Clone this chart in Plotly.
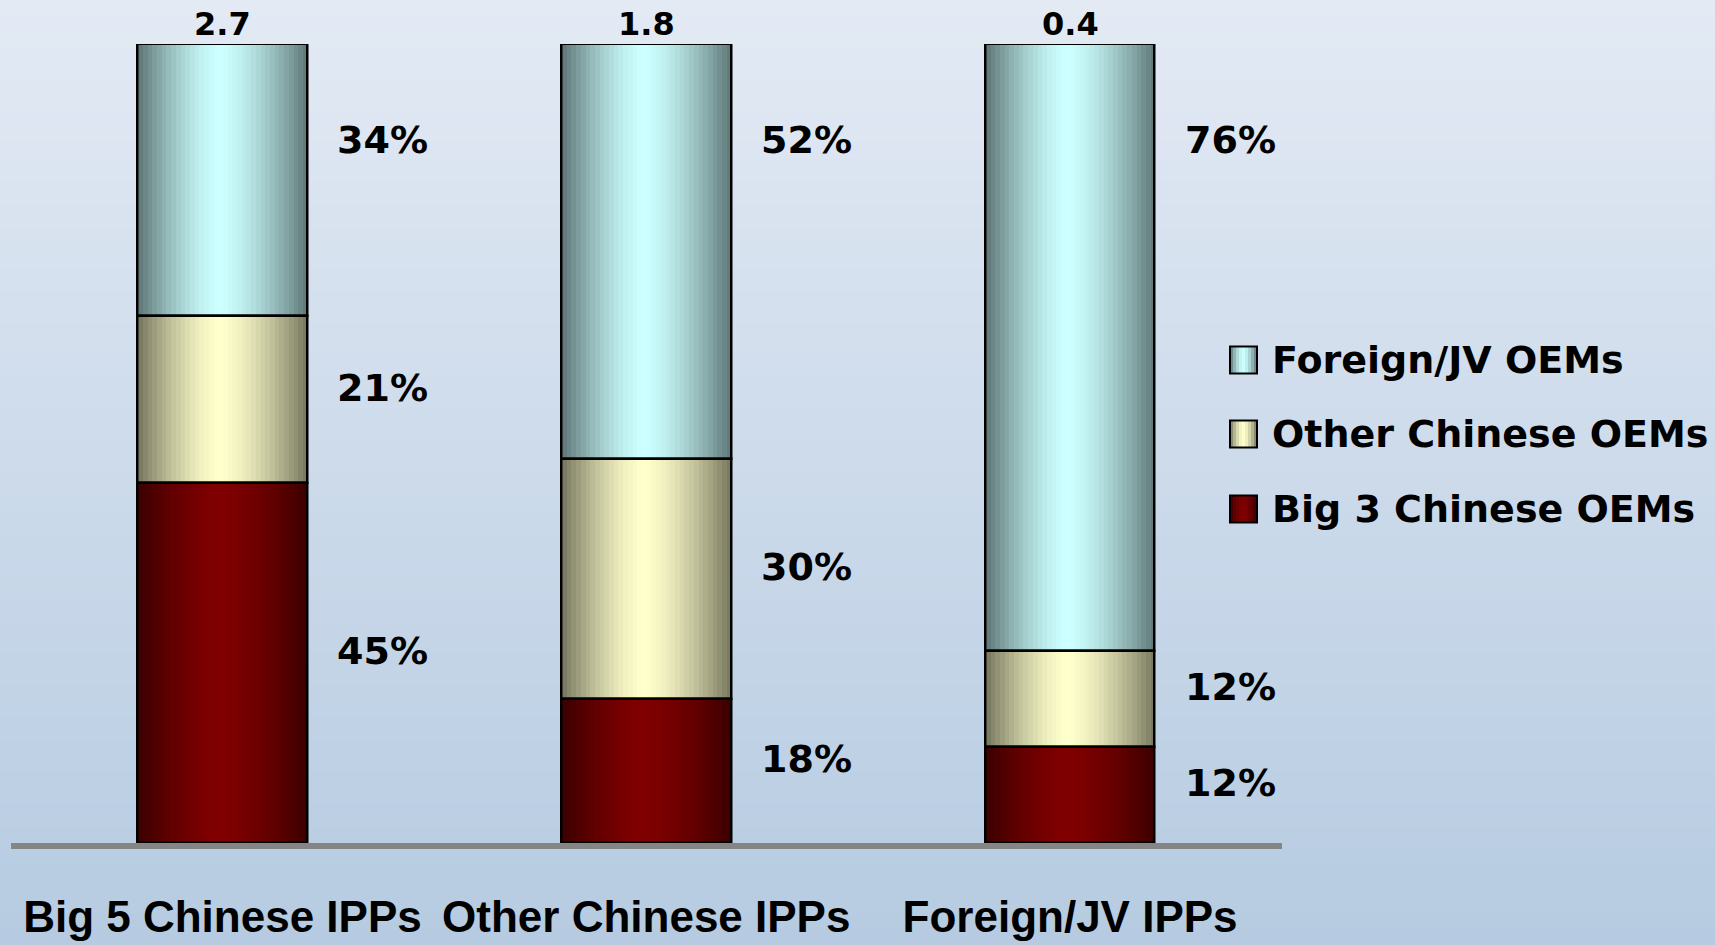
import plotly.graph_objects as go

# ---- data -------------------------------------------------------------
categories = ["Big 5 Chinese IPPs", "Other Chinese IPPs", "Foreign/JV IPPs"]
totals = [2.7, 1.8, 0.4]
big3_share = [45, 18, 12]
other_share = [21, 30, 12]
foreign_share = [34, 52, 76]

series_names = ["Big 3 Chinese OEMs", "Other Chinese OEMs", "Foreign/JV OEMs"]
series_values = [big3_share, other_share, foreign_share]
# bright centre colour of each cylinder-shaded series
series_light = [(128, 0, 0), (255, 255, 204), (204, 255, 255)]

# ---- layout constants -------------------------------------------------
W, H = 1715, 945
BAR_W = 0.40
N_SLICES = 36
EDGE_DARK = 0.46
PEAK = 0.48
FONT_NUM = "DejaVu Sans"
FONT_CAT = "Liberation Sans, Arial, sans-serif"


def shade(rgb, t):
    """Horizontal cylinder shading: dark at the edges, full colour near the middle."""
    d = abs(t - PEAK) / (PEAK if t < PEAK else 1 - PEAK)
    f = 1 - min(d, 1) ** 1.5
    k = EDGE_DARK + (1 - EDGE_DARK) * f
    return "rgb(%d,%d,%d)" % tuple(round(c * k) for c in rgb)


fig = go.Figure()

# stacked bases
bases = []
running = [0] * len(categories)
for vals in series_values:
    bases.append(list(running))
    running = [r + v for r, v in zip(running, vals)]

# gradient fill: each segment is built from thin overlapping bar slices
step = BAR_W / N_SLICES
for name, vals, base, light in zip(series_names, series_values, bases, series_light):
    for k in range(N_SLICES):
        off = -BAR_W / 2 + k * step
        wid = min(step * 1.8, BAR_W / 2 - off)
        fig.add_trace(go.Bar(
            x=categories, y=vals, base=base,
            offset=off, width=wid,
            marker=dict(color=shade(light, (k + 0.5) / N_SLICES), line=dict(width=0)),
            showlegend=False, hoverinfo="skip", name=name,
        ))

# outlines of each segment
for name, vals, base in zip(series_names, series_values, bases):
    fig.add_trace(go.Bar(
        x=categories, y=vals, base=base,
        offset=-BAR_W / 2, width=BAR_W,
        marker=dict(color="rgba(0,0,0,0)", line=dict(color="black", width=2.5)),
        name=name, showlegend=False,
        hovertemplate="%{x}<br>" + name + ": %{y}%<extra></extra>",
    ))

annotations = []

# percentage labels to the right of each segment
TOP_LABEL_Y = 88
for si, (vals, base) in enumerate(zip(series_values, bases)):
    for ci, cat in enumerate(categories):
        if si == len(series_values) - 1:
            yy = TOP_LABEL_Y
        else:
            yy = base[ci] + vals[ci] / 2 + 1.5
        annotations.append(dict(
            x=cat, y=yy, xref="x", yref="y", text=f"{vals[ci]}%",
            showarrow=False, xanchor="left", yanchor="middle", xshift=BAR_W / 2 * 423 + 28,
            font=dict(family=FONT_NUM, size=38, color="black", weight="bold"),
        ))

# totals above the bars
for ci, cat in enumerate(categories):
    annotations.append(dict(
        x=cat, y=100, xref="x", yref="y", text=f"{totals[ci]}",
        showarrow=False, xanchor="center", yanchor="bottom", yshift=-1,
        font=dict(family=FONT_NUM, size=32, color="black", weight="bold"),
    ))

shapes = []

# vertical background gradient
top_c = (227, 234, 244)
bot_c = (182, 203, 225)
N_BANDS = 120
for i in range(N_BANDS):
    t = i / (N_BANDS - 1)
    c = tuple(round(a + (b - a) * t) for a, b in zip(top_c, bot_c))
    shapes.append(dict(
        type="rect", xref="paper", yref="paper", layer="below",
        x0=0, x1=1, y0=1 - (i + 1) / N_BANDS - 0.002, y1=1 - i / N_BANDS,
        fillcolor="rgb(%d,%d,%d)" % c, line=dict(width=0),
    ))

# legend (top entry first)
LEG_X0, LEG_SW = 1230, 27
LEG_ROWS = [360, 434, 509]
for row_y, name, light in zip(LEG_ROWS, series_names[::-1], series_light[::-1]):
    n = 9
    for k in range(n):
        shapes.append(dict(
            type="rect", xref="paper", yref="paper",
            x0=(LEG_X0 + k * LEG_SW / n) / W, x1=(LEG_X0 + (k + 1.3) * LEG_SW / n) / W if k < n - 1 else (LEG_X0 + LEG_SW) / W,
            y0=1 - (row_y + LEG_SW / 2) / H, y1=1 - (row_y - LEG_SW / 2) / H,
            fillcolor=shade(light, (k + 0.5) / n), line=dict(width=0),
        ))
    shapes.append(dict(
        type="rect", xref="paper", yref="paper",
        x0=LEG_X0 / W, x1=(LEG_X0 + LEG_SW) / W,
        y0=1 - (row_y + LEG_SW / 2) / H, y1=1 - (row_y - LEG_SW / 2) / H,
        fillcolor="rgba(0,0,0,0)", line=dict(color="black", width=2),
    ))
    annotations.append(dict(
        x=(LEG_X0 + LEG_SW + 13) / W, y=1 - row_y / H, xref="paper", yref="paper",
        text=name, showarrow=False, xanchor="left", yanchor="middle",
        font=dict(family=FONT_NUM, size=38, color="black", weight="bold"),
    ))

fig.update_layout(
    width=W, height=H,
    margin=dict(l=0, r=0, t=0, b=0, autoexpand=False),
    paper_bgcolor="rgb(205,218,234)",
    plot_bgcolor="rgba(0,0,0,0)",
    barmode="overlay",
    bargap=0,
    showlegend=False,
    shapes=shapes,
    annotations=annotations,
    xaxis=dict(
        domain=[10.5 / W, 1282 / W],
        type="category", range=[-0.5, 2.5],
        automargin=False, tickangle=0,
        showline=True, linecolor="rgb(133,133,133)", linewidth=6,
        ticks="outside", ticklen=30, tickcolor="rgba(0,0,0,0)",
        tickfont=dict(family=FONT_CAT, size=44, color="black", weight="bold"),
        showgrid=False, zeroline=False, fixedrange=True,
    ),
    yaxis=dict(
        domain=[(H - 843) / H, (H - 44) / H],
        range=[0, 100], visible=False, fixedrange=True, automargin=False,
    ),
)

fig.write_html("out.html")
